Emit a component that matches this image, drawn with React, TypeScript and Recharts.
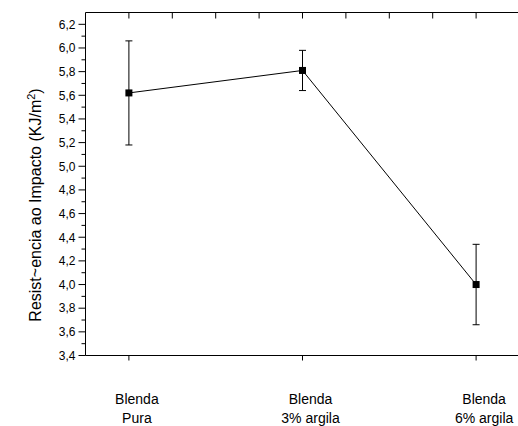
import { LineChart, Line, XAxis, YAxis, ErrorBar, Label } from "recharts";

// x positions of the three samples on the numeric axis
const categoryPos = [1, 5, 9];
const categoryLine1 = ["Blenda", "Blenda", "Blenda"];
const categoryLine2 = ["Pura", "3% argila", "6% argila"];
const impactValues = [5.62, 5.81, 4.0];
const impactErrors = [0.44, 0.17, 0.34];

const leftTicks = [
  3.4, 3.5, 3.6, 3.7, 3.8, 3.9, 4.0, 4.1, 4.2, 4.3, 4.4, 4.5, 4.6, 4.7, 4.8,
  4.9, 5.0, 5.1, 5.2, 5.3, 5.4, 5.5, 5.6, 5.7, 5.8, 5.9, 6.0, 6.1, 6.2, 6.3,
];
const topTicks = [1, 2, 3, 4, 5, 6, 7, 8, 9];
const rightTicks = [0, 1, 2, 3, 4, 5, 6, 7, 8, 9, 10];

const data = categoryPos.map((x, i) => ({
  x,
  y: impactValues[i],
  err: impactErrors[i],
}));

const FONT = "'Liberation Sans', Arial, sans-serif";

function LeftTick({ x, y, payload }: any) {
  const tenth = Math.round(payload.value * 10);
  const major = tenth % 2 === 0;
  if (tenth > 62) return null;
  return (
    <g>
      <line x1={x - (major ? 7 : 4)} x2={x} y1={y} y2={y} stroke="#000" />
      {major && (
        <text x={x - 10} y={y + 4.3} textAnchor="end" fontSize={12} fontFamily={FONT} fill="#000">
          {payload.value.toFixed(1).replace(".", ",")}
        </text>
      )}
    </g>
  );
}

function RightTick({ x, y, payload }: any) {
  const major = payload.value % 2 === 0;
  return <line x1={x - (major ? 6 : 2)} x2={x} y1={y} y2={y} stroke="#000" />;
}

function BottomTick({ x, y, payload }: any) {
  const i = categoryPos.indexOf(payload.value);
  return (
    <g>
      <line x1={x} x2={x} y1={y} y2={y + 5} stroke="#000" />
      <text textAnchor="middle" fontSize={14} fontFamily={FONT} fill="#000">
        <tspan x={x + 8} y={y + 48.5}>{categoryLine1[i]}</tspan>
        <tspan x={x + 8} y={y + 67.5}>{categoryLine2[i]}</tspan>
      </text>
    </g>
  );
}

function YLabel({ viewBox }: any) {
  const cx = viewBox.x - 44;
  const cy = viewBox.y + viewBox.height / 2 + 21;
  return (
    <text
      x={cx}
      y={cy}
      transform={`rotate(-90 ${cx} ${cy})`}
      textAnchor="middle"
      fontSize={16}
      fontFamily={FONT}
      fill="#000"
    >
      Resist~encia ao Impacto (KJ/m
      <tspan dy={-6} fontSize={11}>2</tspan>
      <tspan dy={6}>)</tspan>
    </text>
  );
}

function SquareDot({ cx, cy, index }: any) {
  return <rect key={index} x={cx - 3.5} y={cy - 3.5} width={7} height={7} fill="#000" />;
}

export default function App() {
  return (
    <div
      style={{
        position: "absolute",
        left: 0,
        top: 0,
        width: 518,
        height: 426,
        overflow: "hidden",
        background: "#fff",
      }}
    >
      <LineChart
        width={530}
        height={426}
        data={data}
        margin={{ top: 12.5, right: 9.5, bottom: 69.5, left: 84.5 }}
      >
        <XAxis
          xAxisId="bottom"
          dataKey="x"
          type="number"
          domain={[0, 10]}
          ticks={categoryPos}
          interval={0}
          height={1}
          tickSize={0}
          tickMargin={0}
          axisLine={{ stroke: "#000" }}
          tick={<BottomTick />}
        />
        {/* top frame: mirrored so the ticks point into the plot */}
        <XAxis
          xAxisId="top"
          orientation="top"
          mirror
          dataKey="x"
          type="number"
          domain={[0, 10]}
          ticks={topTicks}
          interval={0}
          height={1}
          tickSize={6}
          tickLine={{ stroke: "#000", strokeWidth: 1 }}
          tickFormatter={() => ""}
          axisLine={{ stroke: "#000" }}
        />
        <YAxis
          yAxisId="left"
          type="number"
          domain={[3.4, 6.3]}
          ticks={leftTicks}
          interval={0}
          width={1}
          tickSize={0}
          tickMargin={0}
          axisLine={{ stroke: "#000" }}
          tick={<LeftTick />}
          allowDataOverflow
        >
          <Label content={<YLabel />} />
        </YAxis>
        <YAxis
          yAxisId="right"
          orientation="right"
          type="number"
          domain={[0, 10]}
          ticks={rightTicks}
          interval={0}
          width={1}
          tickSize={0}
          tickMargin={0}
          axisLine={{ stroke: "#000" }}
          tick={<RightTick />}
        />
        <Line
          xAxisId="top"
          yAxisId="left"
          dataKey="y"
          stroke="none"
          dot={false}
          activeDot={false}
          legendType="none"
          isAnimationActive={false}
        />
        <Line
          xAxisId="bottom"
          yAxisId="left"
          type="linear"
          dataKey="y"
          stroke="#000"
          strokeWidth={1}
          dot={<SquareDot />}
          activeDot={false}
          isAnimationActive={false}
        >
          <ErrorBar dataKey="err" direction="y" width={3.5} stroke="#000" strokeWidth={1} />
        </Line>
      </LineChart>
    </div>
  );
}
